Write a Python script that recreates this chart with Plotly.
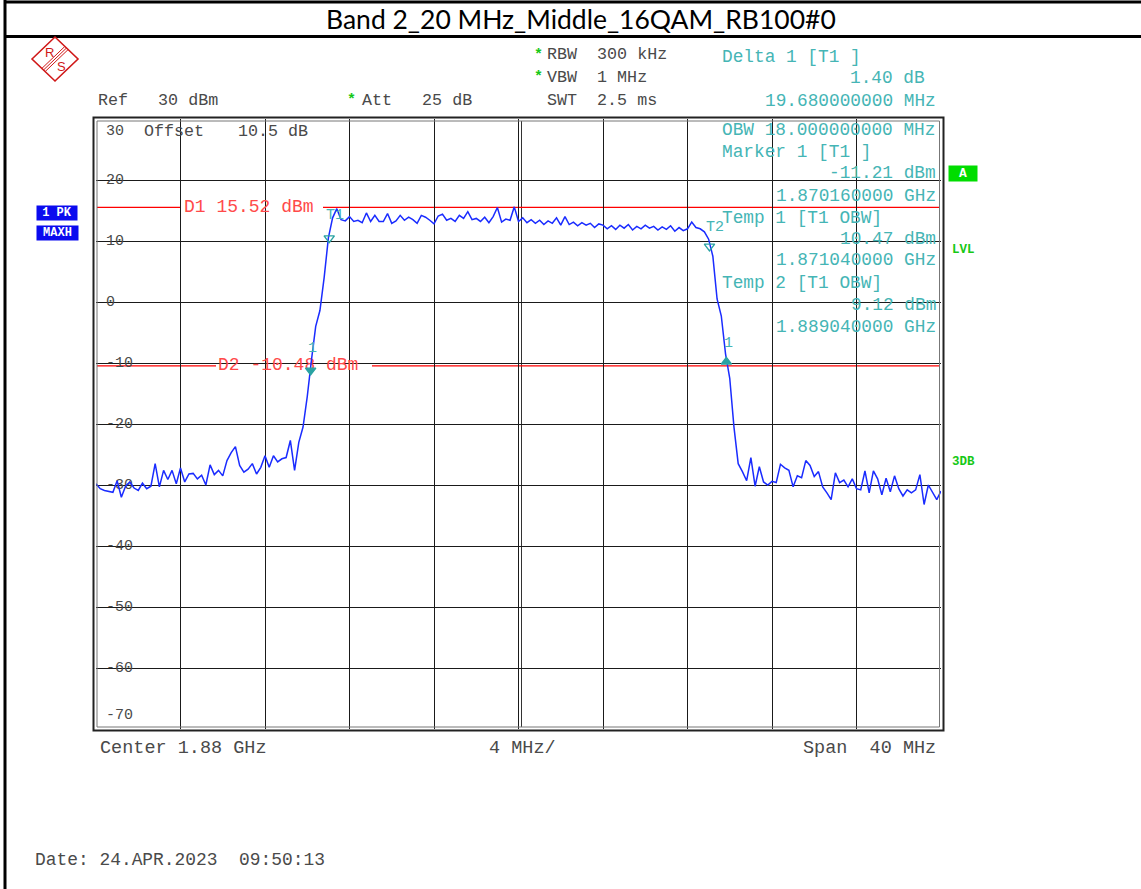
import plotly.graph_objects as go

# ---------------- data ----------------
TITLE = "Band 2_20 MHz_Middle_16QAM_RB100#0"
START_MHZ = 1860.0          # center 1.88 GHz, span 40 MHz
STOP_MHZ = 1900.0
STEP_MHZ = 0.2              # sweep point spacing of the read-off trace

level_dbm = [
    -29.8, -30.6, -30.9, -31.0, -31.2, -29.3, -32.0, -30.2, -29.5, -30.5,
    -30.9, -29.7, -30.6, -30.2, -26.5, -30.3, -27.6, -29.1, -27.6, -29.8,
    -27.2, -29.5, -28.2, -28.1, -29.0, -28.4, -30.0, -26.7, -28.3, -27.6,
    -28.5, -26.0, -24.7, -23.7, -26.8, -27.9, -27.4, -26.5, -28.2, -27.1,
    -25.2, -27.1, -25.2, -26.2, -25.7, -25.5, -22.7, -27.6, -23.0, -20.5,
    -15.5, -9.5, -4.0, -1.4, 4.0, 10.5, 13.8, 15.3, 13.5,
    13.3, 14.0, 13.2, 13.4, 13.0, 14.6, 13.2, 14.2, 13.2, 13.2,
    14.5, 12.9, 13.3, 14.2, 13.4, 13.9, 13.5, 12.9, 14.2, 13.9,
    13.4, 12.8, 14.1, 14.4, 13.4, 13.7, 13.2, 14.2, 13.7, 14.8,
    13.5, 13.7,
    13.2, 13.9, 13.0, 14.0, 15.5, 13.1, 13.6, 13.4, 15.6, 13.2,
    13.8, 13.0, 13.5, 12.9, 13.4, 12.7, 13.3, 12.9, 13.8, 12.6,
    14.0, 12.7, 13.1, 12.5, 13.0, 12.6, 12.9, 12.2, 12.8, 12.6,
    12.0, 12.5, 11.9, 12.6, 12.1, 12.7, 11.8, 12.4, 12.0, 12.6,
    12.1, 12.4, 11.8, 12.3, 11.9, 12.5, 11.6, 12.2, 11.7, 12.0,
    13.1, 12.2, 12.0,
    11.5, 10.3, 7.5, 0.5, -2.3, -8.5, -12.5, -20.5, -26.5, -27.8,
    -29.3, -25.5, -30.2, -27.0, -29.5, -30.0, -29.4, -29.6, -26.6, -27.2,
    -27.6, -30.3, -28.5, -28.8, -26.0, -26.8, -28.6, -27.8, -30.3, -31.3,
    -32.4, -28.0, -29.6, -29.2, -30.3, -29.0, -30.6, -30.8, -27.7, -31.3,
    -27.7, -29.0, -31.6, -28.9, -31.1, -28.5, -30.6, -31.8, -30.8, -31.3,
    -30.8, -28.3, -33.2, -30.0, -31.3, -32.4, -31.0,
]
freq_mhz = [START_MHZ + STEP_MHZ * i for i in range(len(level_dbm))]

marker_names = ["T1", "T2", "1", "1"]
marker_freq_mhz = [1871.04, 1889.04, 1870.16, 1889.84]
marker_level_dbm = [10.47, 9.12, -11.21, -9.81]
marker_symbols = ["triangle-down-open", "triangle-down-open", "triangle-down", "triangle-up"]

display_line_names = ["D1", "D2"]
display_line_dbm = [15.52, -10.48]

y_tick_values = [30, 20, 10, 0, -10, -20, -30, -40, -50, -60, -70]

header_texts = ["RBW  300 kHz", "VBW  1 MHz", "SWT  2.5 ms", "Att   25 dB", "Ref   30 dBm"]
marker_info_left = ["Delta 1 [T1 ]", "OBW 18.000000000 MHz", "Marker 1 [T1 ]",
                    "Temp 1 [T1 OBW]", "Temp 2 [T1 OBW]"]
marker_info_right = ["1.40 dB", "19.680000000 MHz", "-11.21 dBm", "1.870160000 GHz",
                     "10.47 dBm", "1.871040000 GHz", "9.12 dBm", "1.889040000 GHz"]
footer_texts = ["Center 1.88 GHz", "4 MHz/", "Span  40 MHz"]
DATE_TEXT = "Date: 24.APR.2023  09:50:13"

# ---------------- layout helpers ----------------
W, H = 1141, 889
PL, PR, PT, PB = 96, 941, 119, 729
Y_TOP, Y_BOT = 30, -70
MONO = "Liberation Mono, Courier New, monospace"
GRAY = "#4a4a4a"
TEAL = "#45b5b5"
RED = "#ff0000"
REDTXT = "#ff4a4a"
GREEN = "#16c816"


def px(x):
    return (x - PL) / (PR - PL)


def py(y):
    return (PB - y) / (PB - PT)


def xdata(x):
    return START_MHZ + (x - PL) * (STOP_MHZ - START_MHZ) / (PR - PL)


def ydata(y):
    return Y_TOP - (y - PT) * (Y_TOP - Y_BOT) / (PB - PT)


def nb(s):
    return s.replace(" ", "\u00a0")


fig = go.Figure()
shapes = []
annotations = []


def text(t, x, y, color=GRAY, size=17, anchor="left", family=MONO, bg=None, bold=False,
         width=None, height=None):
    d = dict(xref="paper", yref="paper", x=px(x), y=py(y), text=nb(t), showarrow=False,
             xanchor=anchor, yanchor="middle",
             font=dict(family=family, size=size, color=color,
                       weight="bold" if bold else "normal"),
             borderpad=0)
    if bg:
        d["bgcolor"] = bg
    if width:
        d["width"] = width
    if height:
        d["height"] = height
    annotations.append(d)


# ---- page frame ----
shapes.append(dict(type="line", xref="paper", yref="paper", x0=px(4), x1=px(1141), y0=py(2), y1=py(2),
                   line=dict(color="black", width=3)))
shapes.append(dict(type="line", xref="paper", yref="paper", x0=px(4), x1=px(1141), y0=py(36.5), y1=py(36.5),
                   line=dict(color="black", width=3)))
shapes.append(dict(type="line", xref="paper", yref="paper", x0=px(5), x1=px(5), y0=py(0), y1=py(889),
                   line=dict(color="black", width=3)))

# ---- plot frame (double lines) ----
shapes.append(dict(type="rect", xref="paper", yref="paper", x0=px(93.5), x1=px(943.5), y0=py(730.5), y1=py(117.5),
                   line=dict(color="#222", width=2), layer="above"))
for xx in (97, 939.5):
    shapes.append(dict(type="line", xref="paper", yref="paper", x0=px(xx), x1=px(xx), y0=py(121), y1=py(727),
                       line=dict(color="#777", width=1), layer="above"))
for yy in (121, 727):
    shapes.append(dict(type="line", xref="paper", yref="paper", x0=px(97), x1=px(939.5), y0=py(yy), y1=py(yy),
                       line=dict(color="#777", width=1), layer="above"))
# center double line
shapes.append(dict(type="line", xref="paper", yref="paper", x0=px(521.5), x1=px(521.5), y0=py(121), y1=py(727),
                   line=dict(color="#333", width=1), layer="between"))

# ---- y tick labels (with gridline masks) ----
tick_x = xdata(106)
tick_y = []
for v in y_tick_values:
    if v == Y_TOP:
        tick_y.append(ydata(PT + 12))
    elif v == Y_BOT:
        tick_y.append(ydata(PB - 14))
    else:
        tick_y.append(v)
for v, yv in zip(y_tick_values, tick_y):
    wpx = 9 * len(str(v)) + 8
    shapes.append(dict(type="rect", xref="paper", yref="y", x0=px(103), x1=px(103 + wpx),
                       y0=yv - 1.2, y1=yv + 1.2, fillcolor="white", line=dict(width=0), layer="between"))

# ---- display lines D1 / D2 ----
label_px = {"D1": (181, 323, 184), "D2": (216, 372, 218)}
for name, lvl in zip(display_line_names, display_line_dbm):
    g0, g1, tx = label_px[name]
    shapes.append(dict(type="line", xref="paper", yref="y", x0=px(97), x1=px(g0), y0=lvl, y1=lvl,
                       line=dict(color=RED, width=1.3), layer="between"))
    shapes.append(dict(type="line", xref="paper", yref="y", x0=px(g1), x1=px(940), y0=lvl, y1=lvl,
                       line=dict(color=RED, width=1.3), layer="between"))

fig.add_trace(go.Scatter(
    x=[tick_x] * len(y_tick_values), y=tick_y, mode="text",
    text=[str(v) for v in y_tick_values], textposition="middle right",
    textfont=dict(family=MONO, size=15, color=GRAY), hoverinfo="skip"))

fig.add_trace(go.Scatter(
    x=[xdata(label_px[n][2]) for n in display_line_names], y=display_line_dbm, mode="text",
    text=[nb(f"{n} {v:.2f} dBm") for n, v in zip(display_line_names, display_line_dbm)],
    textposition="middle right",
    textfont=dict(family=MONO, size=18, color=REDTXT), hoverinfo="skip"))

# ---- trace ----
fig.add_trace(go.Scatter(x=freq_mhz, y=level_dbm, mode="lines",
                         line=dict(color="#1a2cff", width=1.5), hoverinfo="skip"))

# ---- markers ----
fig.add_trace(go.Scatter(x=marker_freq_mhz, y=marker_level_dbm, mode="markers",
                         marker=dict(symbol=marker_symbols, size=9, color="#2aa3a3",
                                     line=dict(color="#2aa3a3", width=1.4)),
                         hoverinfo="skip"))
label_shift = [(6, 15), (6, 11), (2, 14), (2, 10)]
for n, f, l, (dx, dy) in zip(marker_names, marker_freq_mhz, marker_level_dbm, label_shift):
    annotations.append(dict(xref="x", yref="y", x=f, y=l, xshift=dx, yshift=dy + 8, text=n,
                            showarrow=False, xanchor="center", yanchor="middle",
                            font=dict(family=MONO, size=15, color=TEAL)))

# ---- title ----
annotations.append(dict(xref="paper", yref="paper", x=px(581), y=py(19), text=TITLE, showarrow=False,
                        xanchor="center", yanchor="middle",
                        font=dict(family="Lato, Noto Sans, sans-serif", size=26.5, color="black")))

# ---- header block ----
text("*", 538, 56, color=GREEN, size=15, anchor="center", bold=True)
text("*", 538, 78, color=GREEN, size=15, anchor="center", bold=True)
text("*", 351, 101, color=GREEN, size=15, anchor="center", bold=True)
text(header_texts[0], 546, 55, size=16.7)
text(header_texts[1], 546, 78, size=16.7)
text(header_texts[2], 546, 101, size=16.7)
text(header_texts[3], 361, 101, size=16.7)
text(header_texts[4], 97, 101, size=16.7)
text("Offset", 143, 131, size=16.7)
text("10.5 dB", 237, 131, size=16.7)

# ---- marker info (right) ----
left_y = [57, 130, 152, 218, 283]
for t, y in zip(marker_info_left, left_y):
    text(t, 721, y, color=TEAL, size=17.8)
right_pos = [(926, 78), (937, 101), (937, 173), (937, 196), (937, 239), (937, 260), (937, 305), (937, 327)]
for t, (x, y) in zip(marker_info_right, right_pos):
    text(t, x, y, color=TEAL, size=17.8, anchor="right")

# ---- footer ----
text(footer_texts[0], 99, 748, size=18.5)
text(footer_texts[1], 488, 748, size=18.5)
text(footer_texts[2], 937, 748, size=18.5, anchor="right")
text(DATE_TEXT, 34, 860, size=17.9)

# ---- side badges ----
text("1 PK", 57, 212.5, color="white", size=12, anchor="center", bg="#0b0bef", bold=True, width=40, height=14)
text("MAXH", 57.5, 232.5, color="white", size=12, anchor="center", bg="#0b0bef", bold=True, width=41, height=14)
text("A", 962.5, 173, color="white", size=13, anchor="center", bg="#00dd00", bold=True, width=28, height=15)
text("LVL", 963, 250, color=GREEN, size=12.5, anchor="center", bold=True)
text("3DB", 963, 462, color=GREEN, size=12.5, anchor="center", bold=True)

# ---- R&S logo ----
logo_pts = [(32, 59), (55, 37), (78, 59), (55, 81)]
path = "M " + " L ".join(f"{px(a)},{py(b)}" for a, b in logo_pts) + " Z"
shapes.append(dict(type="path", xref="paper", yref="paper", path=path,
                   line=dict(color="#d01818", width=1.6)))
for off in (-1.6, 0, 1.6):
    shapes.append(dict(type="line", xref="paper", yref="paper",
                       x0=px(66.5 + off), y0=py(48 + off), x1=px(43.5 + off), y1=py(70 + off),
                       line=dict(color="#d01818", width=1)))
text("R", 49, 52, color="#d01818", size=13, anchor="center", family="Liberation Sans, sans-serif")
text("S", 61.5, 67, color="#d01818", size=13, anchor="center", family="Liberation Sans, sans-serif")

fig.update_layout(
    width=W, height=H, autosize=False,
    margin=dict(l=PL, r=W - PR, t=PT, b=H - PB, pad=0),
    paper_bgcolor="white", plot_bgcolor="white", showlegend=False,
    xaxis=dict(range=[START_MHZ, STOP_MHZ], tick0=START_MHZ, dtick=4, showgrid=True,
               gridcolor="#1a1a1a", gridwidth=1, zeroline=False, showticklabels=False,
               ticks="", showline=False, fixedrange=True),
    yaxis=dict(range=[Y_BOT, Y_TOP], tick0=0, dtick=10, showgrid=True,
               gridcolor="#1a1a1a", gridwidth=1, zeroline=False, showticklabels=False,
               ticks="", showline=False, fixedrange=True),
    shapes=shapes, annotations=annotations,
)

fig.write_html("out.html", config={"displayModeBar": False},
               post_script="document.body.style.margin='0';")
